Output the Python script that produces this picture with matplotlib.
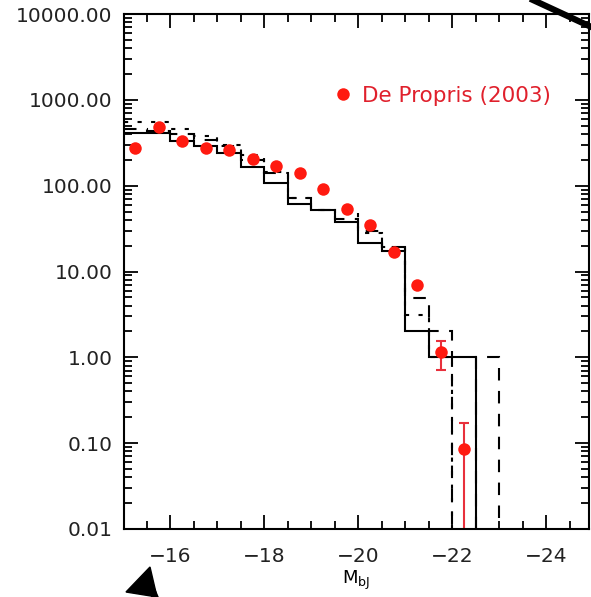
import numpy as np
import matplotlib as mpl
mpl.use("Agg")
import matplotlib.pyplot as plt
from matplotlib.lines import Line2D
from matplotlib.patches import Polygon
from matplotlib.ticker import FixedLocator, LogLocator, NullFormatter, FuncFormatter

mpl.rcParams['font.size'] = 14.0

# Histogram bin edges (M_bJ) and the three model curves
bin_edges = [-15.0, -15.5, -16.0, -16.5, -17.0, -17.5, -18.0, -18.5, -19.0,
             -19.5, -20.0, -20.5, -21.0, -21.5, -22.0, -22.5, -23.0, -23.5]
solid = [414, 414, 331, 292, 238, 163, 106, 61, 52, 38, 21.6, 17.4,
         2.0, 1.0, 1.0, 0, 0]
dashed = [455, 430, 400, 345, 292, 199, 139, 71, 52, 41, 30, 19.4,
          4.85, 2.0, 0, 1.0, 0]
dotted = [556, 556, 460, 380, 300, 227, 145, 71, 52, 48, 28, 19.4,
          3.1, 1.0, 0, 0, 0]

# De Propris (2003) points
dp_mag = [-15.25, -15.75, -16.25, -16.75, -17.25, -17.75, -18.25, -18.75,
          -19.25, -19.75, -20.25, -20.75, -21.25, -21.75, -22.25]
dp_phi = [277, 482, 331, 277, 260, 202, 171, 139, 91, 54, 34.7, 17, 6.9,
          1.14, 0.085]
err_mag = [-21.75, -22.25]
err_phi = [1.14, 0.085]
err_lo = [0.42, 0.085]
err_hi = [0.42, 0.085]

W, H = 591, 597
fig = plt.figure(figsize=(W/100, H/100), dpi=100)
ax = fig.add_axes([123.5/W, 68/H, (588.5-123.5)/W, 515/H])

def floor0(v):
    v = np.asarray(v, dtype=float)
    return np.where(v > 0, v, 1e-6)

ax.stairs(floor0(solid), bin_edges, baseline=None, color="black", lw=1.5)
ax.stairs(floor0(dashed), bin_edges, baseline=None, color="black", lw=1.5,
          linestyle=(0, (6, 5)))
ax.stairs(floor0(dotted), bin_edges, baseline=None, color="black", lw=1.5,
          linestyle=(0, (2, 4.5)))

ax.errorbar(err_mag, err_phi, yerr=[err_lo, err_hi], fmt="none",
            ecolor="#e8303c", elinewidth=1.5, capsize=3.5, capthick=1.5)
ax.plot(dp_mag, dp_phi, "o", color="#ff1a10", markersize=9, mec="none",
        label="De Propris (2003)")

ax.set_yscale("log")
ax.set_ylim(0.01, 10000)
ax.set_xlim(-15, -24.9)

ax.xaxis.set_major_locator(FixedLocator([-16, -18, -20, -22, -24]))
ax.xaxis.set_minor_locator(FixedLocator(np.arange(-15.5, -25, -0.5)))
ax.xaxis.set_major_formatter(FuncFormatter(lambda v, p: "\u2212%d" % abs(v)))
ax.yaxis.set_major_locator(LogLocator(base=10, numticks=10))
ax.yaxis.set_minor_locator(LogLocator(base=10, subs=np.arange(2, 10), numticks=20))
ax.yaxis.set_major_formatter(FuncFormatter(lambda v, p: "%.2f" % v))
ax.yaxis.set_minor_formatter(NullFormatter())

ax.tick_params(which="both", direction="in", top=True, right=True,
               width=1.3, colors="black", labelcolor="#222222")
ax.tick_params(which="major", length=10, labelsize=14.5)
ax.tick_params(which="minor", length=6)
ax.tick_params(axis="x", which="major", pad=13)
ax.tick_params(axis="y", which="major", pad=8)
for s in ax.spines.values():
    s.set_linewidth(1.5)

ax.set_xlabel("M$_{\\rm bJ}$", fontsize=13, labelpad=2)

ax.legend(loc="center left", bbox_to_anchor=(0.458, 0.841), frameon=False,
          borderaxespad=0, borderpad=0,
          labelcolor="#e0202c", handlelength=0.6, handletextpad=0.58,
          fontsize=15.5, numpoints=1)

# Cropped annotations from the original figure
fig.add_artist(Line2D([533/W, 600/W], [1 - 0/H, 1 - 31/H], color="black",
                      lw=4.5, transform=fig.transFigure))
fig.add_artist(Polygon([[150/W, 1 - 567/H], [126/W, 1 - 592/H],
                        [157/W, 1 - 597/H]], closed=True, color="black",
                       transform=fig.transFigure))
fig.add_artist(Line2D([152/W, 155/W], [1 - 590/H, 1 - 597/H], color="black",
                      lw=5, transform=fig.transFigure))

fig.savefig("out.png", dpi=100)
